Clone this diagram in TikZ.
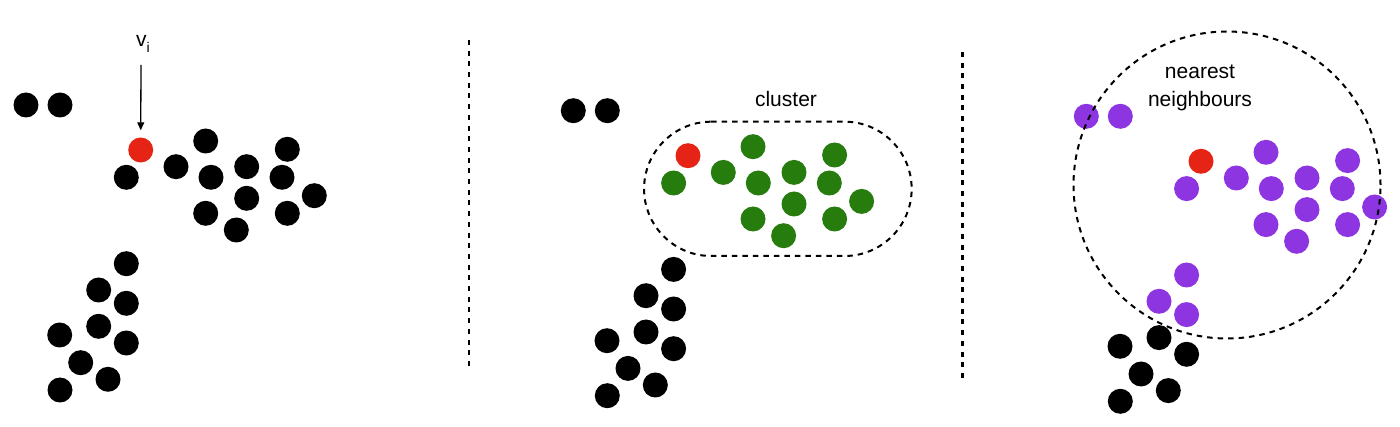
\documentclass[tikz,border=0pt]{standalone}
\usepackage{fontspec}
\setmainfont{Liberation Sans}
\usetikzlibrary{arrows.meta}
\definecolor{dotred}{RGB}{229,36,22}
\definecolor{dotgreen}{RGB}{38,125,14}
\definecolor{dotpurple}{RGB}{142,53,226}
\newcommand{\mypanel}[5]{%
  \foreach \n/\px/\py in {1/126.3/177.3,2/176/166.7,3/205.7/141,4/211/177.3,5/246.7/166.7,6/246.7/198.3,7/205.7/213.3,8/236.3/230,9/287.3/149.3,10/282/177.3,11/314.3/195.7,12/287.3/213.3}
    {\node[dot,fill=#2] (#1u\n) at (\px,\py) {};}
  \node[dot,fill=dotred] (#1r) at (140.7,150) {};
  \foreach \n/\px/\py in {1/26/105,2/60/105}
    {\node[dot,fill=#3] (#1p\n) at (\px,\py) {};}
  \foreach \n/\px/\py in {1/126.3/263.7,2/98.7/290,3/126.3/303.3}
    {\node[dot,fill=#4] (#1l\n) at (\px,\py) {};}
  \foreach \n/\px/\py in {4/98.7/326.3,5/59.7/335,6/126.3/343,7/80.7/362.7,8/108/379.3,9/60/390}
    {\node[dot,fill=#5] (#1l\n) at (\px,\py) {};}
}
\begin{document}
\begin{tikzpicture}[x=1pt,y=-1pt,
  dot/.style={circle,inner sep=0pt,minimum size=25pt,draw=none},
  sepline/.style={line width=2.6pt,dash pattern=on 5pt off 5.7pt},
  enclosure/.style={draw,line width=2pt,dash pattern=on 5.5pt off 5pt},
  lbl/.style={font=\fontsize{21}{28}\selectfont,inner sep=0pt,align=center}]
\useasboundingbox (0,0) rectangle (1400,427);
% panel 1
\mypanel{a}{black}{black}{black}{black}
\node[font=\fontsize{21}{21}\selectfont,inner sep=0pt] (vi) at (143,44) {v{\fontsize{14}{14}\selectfont\raisebox{-6pt}{i}}};
\coordinate (vtail) at (141,65);
\draw[line width=1.3pt,-{Triangle[length=8pt,width=7pt]},shorten >=7pt] (vtail) -- (ar.north);
% separators
\coordinate (s1t) at (469,40);
\coordinate (s1b) at (469,368);
\draw[sepline] (s1t) -- (s1b);
\coordinate (s2t) at (962.3,52);
\coordinate (s2b) at (962.3,380);
\draw[sepline] (s2t) -- (s2b);
% panel 2
\begin{scope}[shift={(547.3,5.7)}]
\mypanel{b}{dotgreen}{black}{black}{black}
\end{scope}
\draw[enclosure] (711.2,121.7) -- (844.5,121.7)
  arc[start angle=90,end angle=-90,radius=67.15pt]
  -- (711.2,256) arc[start angle=270,end angle=90,radius=67.15pt] -- cycle;
\node[lbl] (clusl) at (786,99) {cluster};
% panel 3
\begin{scope}[shift={(1060.3,11.3)}]
\mypanel{c}{dotpurple}{dotpurple}{dotpurple}{black}
\end{scope}
\node[enclosure,circle,minimum size=307pt,inner sep=0pt] (nn) at (1227,185) {};
\node[lbl] (nnl) at (1200,88) {nearest\\neighbours};
\end{tikzpicture}
\end{document}
